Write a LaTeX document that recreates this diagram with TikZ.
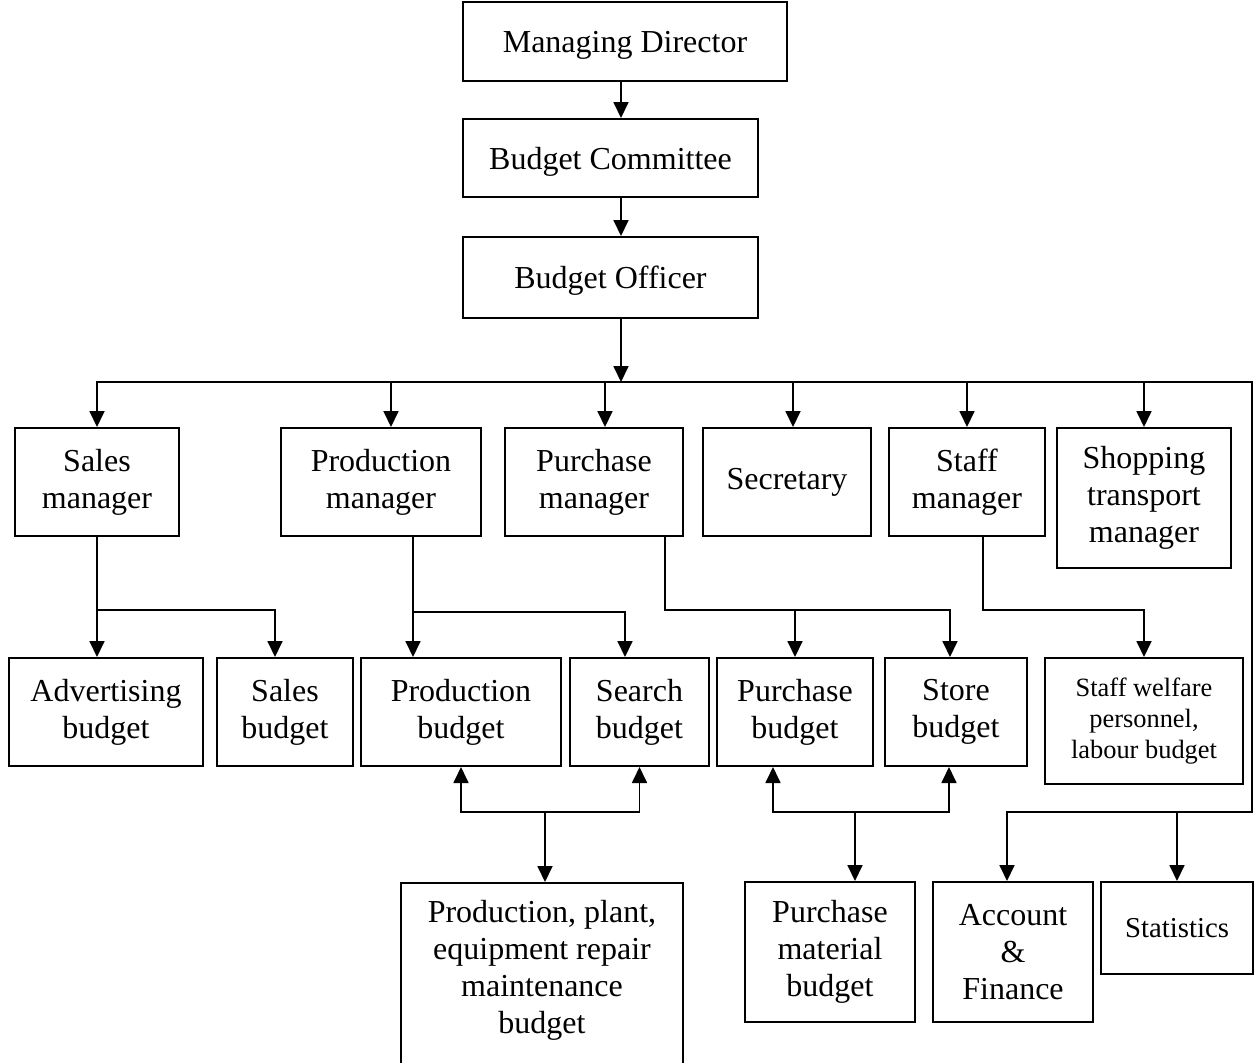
\documentclass[tikz,border=0pt]{standalone}
\usepackage{fontspec}
\setmainfont{Liberation Serif}
\usetikzlibrary{arrows.meta}
\begin{document}
\begin{tikzpicture}[x=0.5pt,y=-0.5pt,>={Triangle[length=8pt,width=7.5pt]}]
        		\tikzstyle{box}=[draw=black,line width=1pt,align=center,inner sep=0pt,font=\fontsize{16}{18.5}\selectfont]
        		\tikzstyle{small}=[font=\fontsize{13.2}{15.5}\selectfont]
        		\tikzstyle{row}=[box,minimum height=54pt]
        		\tikzstyle{edge}=[draw=black,line width=0.9pt]

        		\useasboundingbox (0,0) rectangle (1255,1062);
        		\clip (0,0) rectangle (1255,1062);

       			\begin{scope}

			         \node [box,text depth=0pt,minimum width=162pt,minimum height=39.5pt] (md) at (625,41.5) {Managing Director};
			         \node [box,text depth=0pt,minimum width=147.5pt,minimum height=39pt] (bc) at (610.5,158) {Budget Committee};
			         \node [box,text depth=0pt,minimum width=147.5pt,minimum height=40.5pt] (bo) at (610.5,277.5) {Budget Officer};

			         \node [row,minimum width=82pt] (sm) at (97,482) {Sales\\manager};
			         \node [row,minimum width=100pt] (pm) at (381,482) {Production\\manager};
			         \node [row,minimum width=89pt] (pu) at (594,482) {Purchase\\manager};
			         \node [row,minimum width=84pt] (sec) at (787,482) {Secretary};
			         \node [row,minimum width=78pt] (stm) at (967,482) {Staff\\manager};
			         \node [box,minimum width=87pt,minimum height=70pt] (shm) at (1144,498) {Shopping\\transport\\manager};

			         \node [row,minimum width=97pt] (adv) at (106,712) {Advertising\\budget};
			         \node [row,minimum width=68pt] (sb) at (285,712) {Sales\\budget};
			         \node [row,minimum width=100pt] (pb) at (461,712) {Production\\budget};
			         \node [row,minimum width=69.5pt] (seb) at (639.5,712) {Search\\budget};
			         \node [row,minimum width=78pt] (pub) at (795,712) {Purchase\\budget};
			         \node [row,minimum width=71pt] (stb) at (956,712) {Store\\budget};
			         \node [box,small,minimum width=99pt,minimum height=63pt] (swb) at (1144,721) {Staff welfare\\personnel,\\labour budget};

			         \node [box,minimum width=141pt,minimum height=100pt,anchor=north] (ppb) at (542,882) {};
			         \node [align=center,font=\fontsize{16}{18.5}\selectfont] (ppbtext) at (542,970) {Production, plant,\\equipment repair\\maintenance\\budget};
			         \node [box,minimum width=85pt,minimum height=70pt] (pmb) at (830,952) {Purchase\\material\\budget};
			         \node [box,minimum width=80pt,minimum height=70pt] (acf) at (1013,952) {Account\\\&\\Finance};
			         \node [box,font=\fontsize{14.4}{17}\selectfont,minimum width=76pt,minimum height=46pt] (stat) at (1177,928) {Statistics};

			         \coordinate (bus) at (621,382);
			         \coordinate (rb) at (1252,812);
			         \coordinate (sj) at (97,610);
			         \coordinate (pj) at (413,612);
			         \coordinate (uj) at (665,610);
			         \coordinate (tj) at (983,610);
			         \coordinate (bj) at (545,812);
			         \coordinate (mj) at (855,812);

			 		\path[edge,->] (md.south -| bus) -- (bc.north -| bus);
			 		\path[edge,->] (bc.south -| bus) -- (bo.north -| bus);
			 		\path[edge,->] (bo.south -| bus) -- (bus);

			 		\path[edge,->] (bus) -| (sm);
			 		\path[edge,->] (bus) -| ([xshift=5pt]pm.north);
			 		\path[edge,->] (bus) -| ([xshift=5.5pt]pu.north);
			 		\path[edge,->] (bus) -| ([xshift=3pt]sec.north);
			 		\path[edge,->] (bus) -| (stm);
			 		\path[edge,->] (bus) -| (shm);
			 		\path[edge,->] (bus) -| (rb) -| ([xshift=-3pt]acf.north);
			 		\path[edge,->] (rb -| stat) -- (stat);

			 		\path[edge] (sm) -- (sj);
			 		\path[edge,->] (sj) -- (sj |- adv.north);
			 		\path[edge,->] (sj) -| ([xshift=-5pt]sb.north);

			 		\path[edge] (pm.south -| pj) -- (pj);
			 		\path[edge,->] (pj) -- (pj |- pb.north);
			 		\path[edge,->] (pj) -| ([xshift=-7.25pt]seb.north);

			 		\path[edge,->] (pu.south -| uj) -- (uj) -| ([xshift=-3pt]stb.north);
			 		\path[edge,->] (pub.north |- uj) -- (pub);

			 		\path[edge,->] (stm.south -| tj) -- (tj) -| (swb);

			 		\path[edge,<->] (pb) |- (bj) -| (seb);
			 		\path[edge,->] (bj) -- (bj |- ppb.north);

			 		\path[edge,<->] ([xshift=-11pt]pub.south) |- (mj) -| ([xshift=-3.5pt]stb.south);
			 		\path[edge,->] (mj) -- (mj |- pmb.north);

		        \end{scope}
     		 \end{tikzpicture}
\end{document}
